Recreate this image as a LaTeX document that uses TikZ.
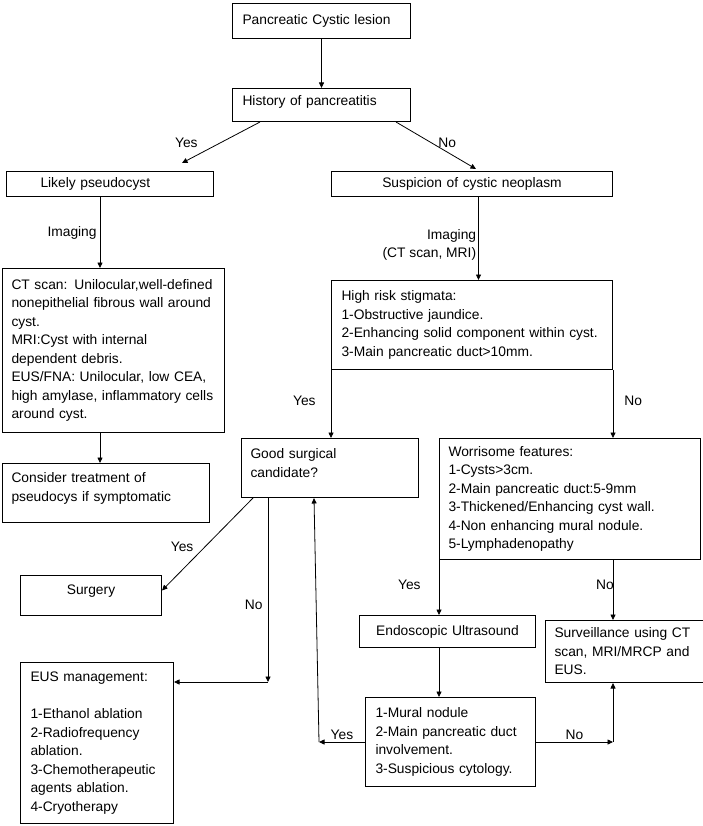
\documentclass[tikz,border=0pt]{standalone}
\usepackage{fontspec}
\setmainfont{Liberation Sans}
\usetikzlibrary{arrows.meta}

\begin{document}
\begin{tikzpicture}[x=1pt, y=-1pt, >={Triangle[length=5.5pt,width=5pt]},
    font=\fontsize{13.8}{18.5}\selectfont,
    box/.style={draw, line width=1pt, anchor=north west, align=left, inner xsep=0pt, inner ysep=2pt},
    lbl/.style={inner sep=2pt}]
    \useasboundingbox (0,0) rectangle (702,826);

    \node[box, minimum width=178pt, minimum height=35pt, text width=158pt] (lesion) at (232,3) {Pancreatic Cystic lesion};
    \node[box, minimum width=178pt, minimum height=33pt, text width=158pt, text depth=9pt] (hist) at (232,88) {History of pancreatitis};
    \node[box, minimum width=207pt, minimum height=25pt, text width=139pt] (pseudo) at (6,171) {Likely pseudocyst};
    \node[box, minimum width=281pt, minimum height=25pt, text width=261pt, align=center] (susp) at (331,171) {Suspicion of cystic neoplasm};

    \node[box, minimum width=222pt, minimum height=164pt, text width=204pt] (ct) at (2,268)
        {CT scan: Unilocular,well-defined\\nonepithelial fibrous wall around\\cyst.\\MRI:Cyst with internal\\dependent debris.\\EUS/FNA: Unilocular, low CEA,\\high amylase, inflammatory cells\\around cyst.};
    \node[box, minimum width=281pt, minimum height=89pt, text width=261pt] (hr) at (331,280)
        {High risk stigmata:\\1-Obstructive jaundice.\\2-Enhancing solid component within cyst.\\3-Main pancreatic duct>10mm.};

    \node[box, minimum width=207pt, minimum height=59pt, text width=189pt, text depth=31pt] (consider) at (2,463) {Consider treatment of\\pseudocys if symptomatic};
    \node[box, minimum width=177pt, minimum height=59pt, text width=159pt, text depth=29pt] (good) at (241,438) {Good surgical\\candidate?};
    \node[box, minimum width=261pt, minimum height=121pt, text width=243pt] (wor) at (439,438)
        {Worrisome features:\\1-Cysts>3cm.\\2-Main pancreatic duct:5-9mm\\3-Thickened/Enhancing cyst wall.\\4-Non enhancing mural nodule.\\5-Lymphadenopathy};

    \node[box, minimum width=141pt, minimum height=40pt, text width=121pt, text depth=12pt, align=center] (surg) at (20,575) {Surgery};
    \node[box, minimum width=153pt, minimum height=161pt, text width=133pt] (eus) at (20,662)
        {EUS management:\\[18.5pt]1-Ethanol ablation\\2-Radiofrequency\\ablation.\\3-Chemotherapeutic\\agents ablation.\\4-Cryotherapy};
    \node[box, minimum width=176pt, minimum height=32pt, text width=156pt, align=center] (endo) at (359,615) {Endoscopic Ultrasound};
    \node[box, minimum width=158pt, minimum height=62pt, text width=140pt] (surv) at (545,620) {Surveillance using CT\\scan, MRI/MRCP and\\EUS.};
    \node[box, minimum width=170pt, minimum height=89pt, text width=150pt] (mural) at (365,697)
        {1-Mural nodule\\2-Main pancreatic duct\\involvement.\\3-Suspicious cytology.};

    \coordinate (pseudoout) at ([xshift=-10pt]pseudo.south);
    \coordinate (suspout) at ([xshift=6.5pt]susp.south);
    \coordinate (nocorner) at (268,682);
    \coordinate (yescorner) at ([xshift=-46pt]mural.west);
    \coordinate (surcorner) at ([xshift=77pt]mural.east);

    \draw[->, thick] (lesion) -- (hist);
    \draw[->, thick] ([xshift=28pt]hist.south west) -- ([xshift=72pt,yshift=8pt]pseudo.north) node[lbl, pos=0.5, left=21pt] {Yes};
    \draw[->, thick] ([xshift=-15pt]hist.south east) -- ([xshift=4pt,yshift=2pt]susp.north) node[lbl, pos=0.45, right=4pt] {No};

    \draw[->, thick] (pseudoout) -- (pseudoout |- ct.north) node[lbl, midway, left=1pt] {Imaging};
    \draw[->, thick] (suspout) -- (suspout |- hr.north) node[lbl, pos=0.58, left=0pt, align=right] {Imaging\\(CT scan, MRI)};
    \draw[->, thick] (pseudoout |- ct.south) -- (pseudoout |- consider.north);

    \draw[->, thick] (hr.south west) -- (hr.south west |- good.north) node[lbl, pos=0.45, left=13pt] {Yes};
    \draw[->, thick] (hr.south east) -- (hr.south east |- wor.north) node[lbl, pos=0.45, right=9pt] {No};

    \draw[->, thick] ([xshift=12pt]good.south west) -- ([yshift=5pt]surg.east) node[lbl, pos=0.53, left=9pt] {Yes};
    \draw[->, thick] (good.south -| nocorner) -- (nocorner) node[lbl, pos=0.58, left=3pt] {No};
    \draw[->, thick] (nocorner) -- (nocorner -| eus.east);

    \draw[->, thick] (wor.south west) -- (wor.south west |- endo.north) node[lbl, pos=0.45, left=16pt] {Yes};
    \draw[->, thick] (hr.south east |- wor.south) -- (hr.south east |- surv.north) node[lbl, pos=0.42, xshift=-8pt] {No};
    \draw[->, thick] (wor.south west |- endo.south) -- (wor.south west |- mural.north);

    \draw[->, thick] (mural.west) -- (yescorner) node[lbl, midway, above=0pt] {Yes};
    \draw[->, thick] (yescorner) -- ([xshift=73pt]good.south west);
    \draw[->, thick] (mural.east) -- (surcorner) node[lbl, midway, above=0pt] {No};
    \draw[->, thick] (surcorner) -- (surcorner |- surv.south);
\end{tikzpicture}
\end{document}
